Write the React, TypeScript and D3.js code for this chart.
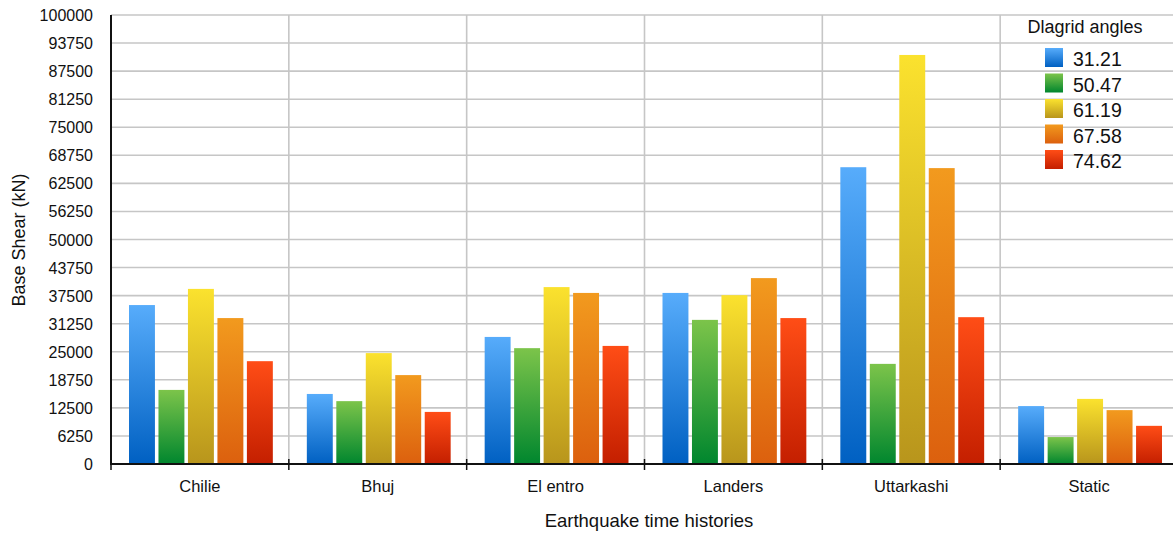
import React from "react";
import * as d3 from "d3";

const categories = ["Chilie", "Bhuj", "El entro", "Landers", "Uttarkashi", "Static"];
const seriesNames = ["31.21", "50.47", "61.19", "67.58", "74.62"];
const s3121 = [35400, 15600, 28300, 38100, 66100, 12900];
const s5047 = [16500, 14000, 25800, 32100, 22300, 6000];
const s6119 = [39000, 24700, 39400, 37600, 91100, 14500];
const s6758 = [32500, 19800, 38100, 41400, 65900, 12000];
const s7462 = [22900, 11600, 26300, 32500, 32700, 8500];
const seriesValues = [s3121, s5047, s6119, s6758, s7462];
const yTicks = [0, 6250, 12500, 18750, 25000, 31250, 37500, 43750, 50000, 56250, 62500, 68750, 75000, 81250, 87500, 93750, 100000];

const gradTop = ["#57acfb", "#7cc44a", "#fbe22e", "#f29a1e", "#ff4d16"];
const gradBot = ["#0060c2", "#00862e", "#b8951c", "#dc600e", "#c41f00"];

const W = 1173;
const H = 535;
const left = 111;
const right = 1178;
const top = 15;
const bottom = 464;
const font = "'Liberation Sans', Arial, Helvetica, sans-serif";

export default function App() {
  const x0 = d3.scaleBand<string>().domain(categories).range([left, right]).padding(0);
  const x1 = d3
    .scaleBand<string>()
    .domain(seriesNames)
    .range([18, x0.bandwidth() - 16])
    .paddingInner(0.12)
    .paddingOuter(0);
  const y = d3.scaleLinear().domain([0, 100000]).range([bottom, top]);

  return (
    <svg
      width={W}
      height={H}
      style={{ position: "fixed", left: 0, top: 0, background: "#fff" }}
      fontFamily={font}
    >
      <defs>
        {seriesNames.map((s, i) => (
          <linearGradient key={s} id={`g${i}`} x1="0" y1="0" x2="0" y2="1">
            <stop offset="0%" stopColor={gradTop[i]} />
            <stop offset="100%" stopColor={gradBot[i]} />
          </linearGradient>
        ))}
      </defs>
      <rect x={0} y={0} width={W} height={H} fill="#fff" />
      {/* horizontal gridlines */}
      {yTicks.map((t) => (
        <line key={`h${t}`} x1={left} x2={right} y1={y(t)} y2={y(t)} stroke="#c6c6c6" strokeWidth={1.6} />
      ))}
      {/* vertical gridlines */}
      {categories.map((c, i) =>
        i === 0 ? null : (
          <line key={`v${c}`} x1={x0(c)!} x2={x0(c)!} y1={top} y2={bottom} stroke="#c6c6c6" strokeWidth={1.6} />
        )
      )}
      {/* bars */}
      {categories.map((c, ci) => (
        <g key={c} transform={`translate(${x0(c)},0)`}>
          {seriesNames.map((s, si) => {
            const v = seriesValues[si][ci];
            return (
              <rect
                key={s}
                x={x1(s)!}
                y={y(v)}
                width={x1.bandwidth()}
                height={bottom - y(v)}
                fill={`url(#g${si})`}
              />
            );
          })}
        </g>
      ))}
      {/* axes */}
      <line x1={left} x2={left} y1={top} y2={bottom + 1} stroke="#111" strokeWidth={2} />
      <line x1={left - 1} x2={right} y1={bottom} y2={bottom} stroke="#111" strokeWidth={2} />
      {categories.map((c, i) => (
        <line key={`t${c}`} x1={x0(c)!} x2={x0(c)!} y1={bottom - 5} y2={bottom + 6} stroke="#111" strokeWidth={1.5} />
      ))}
      {/* y tick labels */}
      {yTicks.map((t) => (
        <text key={`yl${t}`} x={93} y={y(t) + 6} textAnchor="end" fontSize={16} fill="#111">
          {t}
        </text>
      ))}
      {/* x tick labels */}
      {categories.map((c) => (
        <text key={`xl${c}`} x={x0(c)! + x0.bandwidth() / 2} y={492} textAnchor="middle" fontSize={16.5} fill="#111">
          {c}
        </text>
      ))}
      <text x={649} y={527} textAnchor="middle" fontSize={18.5} fill="#111">
        Earthquake time histories
      </text>
      <text transform={`translate(25,240) rotate(-90)`} textAnchor="middle" fontSize={18} fill="#111">
        Base Shear (kN)
      </text>
      {/* legend */}
      <text x={1085} y={33} textAnchor="middle" fontSize={18} fill="#111">
        Dlagrid angles
      </text>
      {seriesNames.map((s, i) => (
        <g key={`lg${s}`} transform={`translate(0,${i * 25.5})`}>
          <rect x={1045} y={48} width={18} height={19} fill={`url(#g${i})`} />
          <text x={1073} y={66} fontSize={19.5} fill="#111">
            {s}
          </text>
        </g>
      ))}
    </svg>
  );
}
